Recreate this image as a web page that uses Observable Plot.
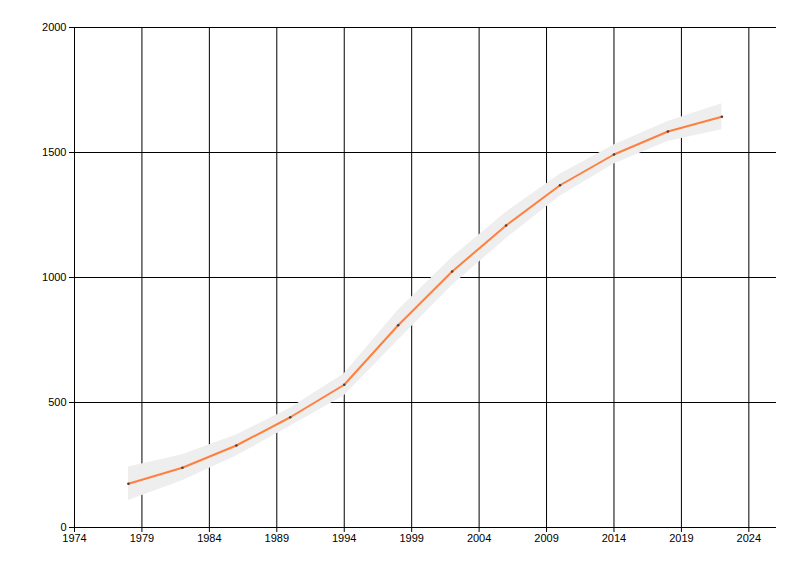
<!DOCTYPE html>
<html>
<head>
<meta charset="utf-8">
<script src="https://cdn.jsdelivr.net/npm/d3@7"></script>
<script src="https://cdn.jsdelivr.net/npm/@observablehq/plot@0.6"></script>
<style>
body { margin: 0; background: #fff; }
</style>
</head>
<body>
<div id="chart"></div>
<script>
const years = [1978, 1982, 1986, 1990, 1994, 1998, 2002, 2006, 2010, 2014, 2018, 2022];
const values = [175, 239, 328, 441, 571, 809, 1024, 1208, 1369, 1492, 1584, 1643];
const halfWidth = [67, 52, 42, 36, 44, 60, 56, 53, 44, 38, 40, 52];
const xTicks = [1974, 1979, 1984, 1989, 1994, 1999, 2004, 2009, 2014, 2019, 2024];
const yTicks = [0, 500, 1000, 1500, 2000];

const data = years.map((y, i) => ({year: y, value: values[i], lo: values[i] - halfWidth[i], hi: values[i] + halfWidth[i]}));

const chart = Plot.plot({
  width: 800,
  height: 576,
  marginLeft: 74,
  marginRight: 24,
  marginTop: 27,
  marginBottom: 49,
  style: {fontFamily: "Liberation Sans, Arial, sans-serif", fontSize: "11px", color: "#000", background: "#fff"},
  x: {domain: [1974, 2026.05], ticks: xTicks, tickFormat: d => String(d)},
  y: {domain: [0, 2000], ticks: yTicks, tickFormat: d => String(d)},
  marks: [
    Plot.ruleX(xTicks, {stroke: "#000", strokeWidth: 1}),
    Plot.ruleY(yTicks, {stroke: "#000", strokeWidth: 1}),
    Plot.areaY(data, {x: "year", y1: "lo", y2: "hi", fill: "#eeeeee", curve: "linear"}),
    Plot.lineY(data, {x: "year", y: "value", stroke: "#ff7f3f", strokeWidth: 2}),
    Plot.dot(data, {x: "year", y: "value", r: 1.3, fill: "#444", stroke: "none"}),
    Plot.axisX({ticks: xTicks, tickSize: 5, tickPadding: 2, tickFormat: d => String(d), label: null, stroke: "#000"}),
    Plot.axisY({ticks: yTicks, tickSize: 5, tickPadding: 3, tickFormat: d => String(d), label: null, stroke: "#000"})
  ]
});
document.getElementById("chart").appendChild(chart);
</script>
</body>
</html>
